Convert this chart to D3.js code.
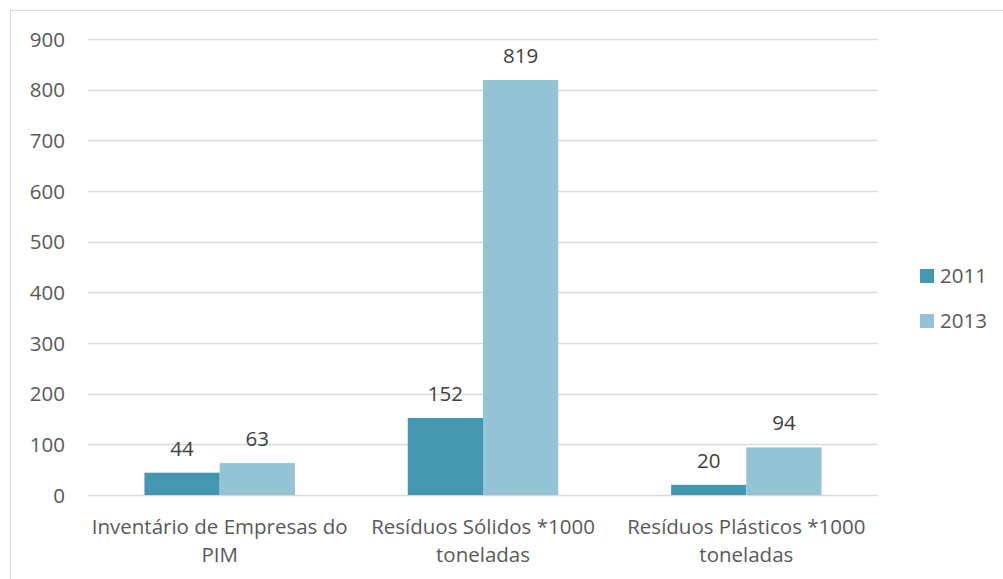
<!DOCTYPE html>
<html>
<head>
<meta charset="utf-8">
<script src="https://cdn.jsdelivr.net/npm/d3@7"></script>
<style>
  html, body { margin: 0; padding: 0; background: #fff; }
  svg text { font-family: "Open Sans", "Noto Sans", sans-serif; fill: #595959; }
</style>
</head>
<body>
<svg id="chart" width="1003" height="579"></svg>
<script>
// Categories (each label split into display lines)
const categories = [
  ["Inventário de Empresas do", "PIM"],
  ["Resíduos Sólidos *1000", "toneladas"],
  ["Resíduos Plásticos *1000", "toneladas"]
];
const seriesNames = ["2011", "2013"];
const values2011 = [44, 152, 20];
const values2013 = [63, 819, 94];
const yTicks = [0, 100, 200, 300, 400, 500, 600, 700, 800, 900];
const colors = ["#4397ae", "#93c3d4"];

const FS = 20.5;
const svg = d3.select("#chart");

// outer chart frame
svg.append("rect")
  .attr("x", 10.5).attr("y", 10.5)
  .attr("width", 1010).attr("height", 600)
  .attr("fill", "none").attr("stroke", "#d9d9d9").attr("stroke-width", 1);

const plotL = 88, plotR = 878, plotT = 39, plotB = 495;

const y = d3.scaleLinear().domain([0, 900]).range([plotB, plotT]);
// category scale; bars use a 150% gap width: step = 2 bars + 1.5 bars
const x0 = d3.scaleBand().domain(d3.range(categories.length)).range([plotL, plotR]).padding(0);
const step = x0.step();
const barW = step / 3.5;
const x1 = d3.scaleBand().domain(seriesNames).range([0, 2 * barW]);

// gridlines
svg.append("g").selectAll("line").data(yTicks).join("line")
  .attr("x1", plotL).attr("x2", plotR)
  .attr("y1", d => Math.round(y(d)) + 0.5).attr("y2", d => Math.round(y(d)) + 0.5)
  .attr("stroke", "#d9d9d9").attr("stroke-width", 1.3);

// y axis labels
const yAxis = d3.axisLeft(y).tickValues(yTicks).tickSize(0).tickPadding(0);
const yg = svg.append("g").attr("transform", `translate(65,0)`).call(yAxis);
yg.select(".domain").remove();
yg.selectAll("text").attr("font-size", FS).attr("dy", "0.35em")
  .style("font-family", '"Open Sans", "Noto Sans", sans-serif').style("fill", "#595959");

const groupStart = i => x0(i) + (step - 2 * barW) / 2;

const data = categories.map((c, i) => ({
  i, vals: [{ s: "2011", v: values2011[i] }, { s: "2013", v: values2013[i] }]
}));

const groups = svg.append("g").selectAll("g").data(data).join("g")
  .attr("transform", d => `translate(${groupStart(d.i)},0)`);

groups.selectAll("rect").data(d => d.vals).join("rect")
  .attr("x", d => x1(d.s))
  .attr("width", x1.bandwidth())
  .attr("y", d => y(d.v))
  .attr("height", d => y(0) - y(d.v))
  .attr("fill", (d, j) => colors[j]);

groups.selectAll("text.val").data(d => d.vals).join("text")
  .attr("class", "val")
  .attr("x", d => x1(d.s) + x1.bandwidth() / 2)
  .attr("y", d => y(d.v) - 17)
  .attr("text-anchor", "middle")
  .attr("font-size", FS)
  .style("fill", "#404040")
  .text(d => d.v);

// category labels
const catG = svg.append("g").selectAll("text").data(categories).join("text")
  .attr("x", (d, i) => x0(i) + step / 2)
  .attr("y", 534)
  .attr("text-anchor", "middle")
  .attr("font-size", FS);
catG.selectAll("tspan").data(d => d).join("tspan")
  .attr("x", function () { return d3.select(this.parentNode).attr("x"); })
  .attr("dy", (d, j) => j === 0 ? 0 : 28)
  .text(d => d);

// legend
const leg = svg.append("g").selectAll("g").data(seriesNames).join("g")
  .attr("transform", (d, i) => `translate(920,${269 + i * 45})`);
leg.append("rect").attr("width", 14).attr("height", 14).attr("fill", (d, i) => colors[i]);
leg.append("text").attr("x", 20).attr("y", 7).attr("dy", "0.35em")
  .attr("font-size", FS).text(d => d);
</script>
</body>
</html>
